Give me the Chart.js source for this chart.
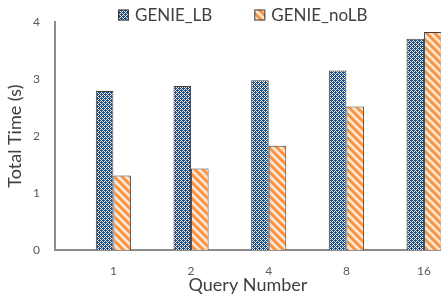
<!DOCTYPE html>
<html>
<head>
<meta charset="utf-8">
<script src="https://cdn.jsdelivr.net/npm/chart.js@4"></script>
<style>
html,body{margin:0;padding:0;background:#fff;}
#wrap{width:445px;height:297px;}
</style>
</head>
<body>
<div id="wrap"><canvas id="c" width="445" height="297"></canvas></div>
<script>
const queryLabels = ['1', '2', '4', '8', '16'];
const seriesNames = ['GENIE_LB', 'GENIE_noLB'];
const genieLB = [2.79, 2.88, 2.98, 3.15, 3.71];
const genieNoLB = [1.31, 1.43, 1.83, 2.52, 3.83];
const yTicks = [0, 1, 2, 3, 4];

const FONT = 'Lato, "Open Sans", sans-serif';

function makeBluePattern() {
  const c = document.createElement('canvas');
  c.width = 4; c.height = 4;
  const g = c.getContext('2d');
  g.fillStyle = '#1c4a7d';
  g.fillRect(0, 0, 4, 4);
  g.fillStyle = '#e3eef9';
  for (let y = 0; y < 4; y++) {
    for (let x = 0; x < 4; x++) {
      if ((x + y) % 4 === 3 && (x % 2 === 0)) g.fillRect(x, y, 1, 1);
      if ((x + y) % 4 === 1) g.fillRect(x, y, 1, 1);
    }
  }
  return g.createPattern(c, 'repeat');
}
function makeOrangePattern() {
  const c = document.createElement('canvas');
  c.width = 8; c.height = 8;
  const g = c.getContext('2d');
  g.fillStyle = '#fde2c8';
  g.fillRect(0, 0, 8, 8);
  g.fillStyle = '#f79646';
  for (let y = 0; y < 8; y++) {
    for (let x = 0; x < 8; x++) {
      if (((x - y) % 8 + 8) % 8 < 4) g.fillRect(x, y, 1, 1);
    }
  }
  return g.createPattern(c, 'repeat');
}
const bluePat = makeBluePattern();
const orangePat = makeOrangePattern();

const overlayLegend = {
  id: 'overlayLegend',
  afterDraw(chart) {
    const ctx = chart.ctx;
    const area = chart.chartArea;
    ctx.save();
    ctx.font = '17px ' + FONT;
    ctx.textBaseline = 'middle';
    const box = 11, gap = 6, spacing = 42;
    let x = area.left + 63;
    const cy = 15;
    chart.data.datasets.forEach(ds => {
      const w = ctx.measureText(ds.label).width;
      ctx.fillStyle = ds.backgroundColor;
      ctx.fillRect(x, cy - box / 2, box, box);
      ctx.strokeStyle = '#404040';
      ctx.lineWidth = 1;
      ctx.strokeRect(x + 0.5, cy - box / 2 + 0.5, box - 1, box - 1);
      ctx.fillStyle = '#404040';
      ctx.fillText(ds.label, x + box + gap, cy + 1);
      x += box + gap + w + spacing;
    });
    ctx.restore();
  }
};

const chart = new Chart(document.getElementById('c'), {
  type: 'bar',
  data: {
    datasets: [
      {
        label: seriesNames[0],
        data: genieLB.map((v, i) => ({ x: i, y: v })),
        backgroundColor: bluePat,
        borderColor: '#404040',
        borderWidth: 1,
        categoryPercentage: 0.452,
        barPercentage: 1.0
      },
      {
        label: seriesNames[1],
        data: genieNoLB.map((v, i) => ({ x: i, y: v })),
        backgroundColor: orangePat,
        borderColor: '#404040',
        borderWidth: 1,
        categoryPercentage: 0.452,
        barPercentage: 1.0
      }
    ]
  },
  options: {
    responsive: false,
    animation: false,
    devicePixelRatio: 1,
    layout: { padding: { top: 15, right: 0, left: 0, bottom: 0 } },
    plugins: { legend: { display: false }, tooltip: { enabled: false } },
    scales: {
      x: {
        type: 'linear',
        min: -0.7516,
        max: 4.217,
        offset: false,
        grid: { display: false, drawTicks: false },
        border: { display: true, color: '#8c8c8c', width: 2 },
        afterBuildTicks: s => { s.ticks = queryLabels.map((_, i) => ({ value: i })); },
        afterFit: s => { s.height = 47; },
        ticks: {
          autoSkip: false,
          maxRotation: 0,
          padding: 14,
          color: '#595959',
          font: { size: 12, family: FONT },
          callback: v => queryLabels[v]
        },
        title: {
          display: true,
          text: 'Query Number',
          color: '#404040',
          font: { size: 18, family: FONT },
          padding: { top: 0, bottom: 1 }
        }
      },
      y: {
        min: 0,
        max: 4,
        grid: { display: false, drawTicks: false },
        border: { display: true, color: '#8c8c8c', width: 2 },
        afterBuildTicks: s => { s.ticks = yTicks.map(v => ({ value: v })); },
        afterFit: s => { s.width = 55; },
        ticks: {
          padding: 15,
          color: '#595959',
          font: { size: 12, family: FONT }
        },
        title: {
          display: true,
          text: 'Total Time (s)',
          color: '#404040',
          font: { size: 18, family: FONT },
          padding: { top: 4, bottom: 0 }
        }
      }
    }
  },
  plugins: [overlayLegend]
});
</script>
</body>
</html>
